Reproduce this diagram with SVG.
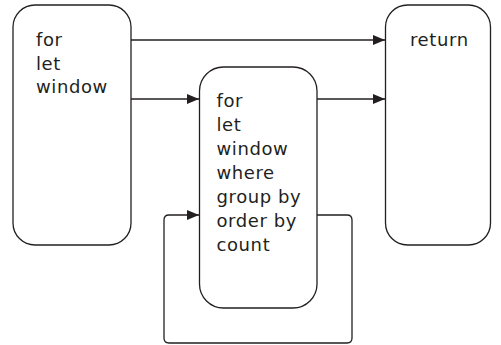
<svg xmlns="http://www.w3.org/2000/svg" width="501" height="345" viewBox="0 0 501 345">
<style>
.box{fill:#fff;stroke:#231f20;stroke-width:1.3}
.ln{fill:none;stroke:#231f20;stroke-width:1.3}
text{font-family:"DejaVu Sans",sans-serif;font-size:18px;letter-spacing:0.6px;fill:#231f20}
</style>
<defs>
<marker id="ah" markerWidth="12" markerHeight="10" refX="12" refY="5" orient="auto" markerUnits="userSpaceOnUse">
<path d="M0,0 L12,5 L0,10 Z" fill="#231f20"/>
</marker>
</defs>
<g id="connectors">
<path class="ln" d="M131,40 H385" marker-end="url(#ah)"/>
<path class="ln" d="M131,99 H199" marker-end="url(#ah)"/>
<path class="ln" d="M317,99 H385" marker-end="url(#ah)"/>
<path class="ln" d="M317,215 H347 Q352,215 352,220 V338 Q352,343 347,343 H169 Q164,343 164,338 V220 Q164,215 169,215 H199" marker-end="url(#ah)"/>
</g>
<g id="node1">
<rect class="box" x="13" y="5" width="118" height="240" rx="22" ry="22"/>
<text x="36" y="46">for</text>
<text x="36" y="69.5">let</text>
<text x="36" y="93">window</text>
</g>
<g id="node2">
<rect class="box" x="199.5" y="67" width="117.5" height="241" rx="24" ry="24"/>
<text x="216.5" y="106.7">for</text>
<text x="216.5" y="130.7">let</text>
<text x="216.5" y="154.7">window</text>
<text x="216.5" y="178.7">where</text>
<text x="216.5" y="202.7">group by</text>
<text x="216.5" y="226.7">order by</text>
<text x="216.5" y="250.7">count</text>
</g>
<g id="node3">
<rect class="box" x="385.5" y="5" width="105" height="240" rx="22" ry="22"/>
<text x="410" y="46">return</text>
</g>
</svg>
